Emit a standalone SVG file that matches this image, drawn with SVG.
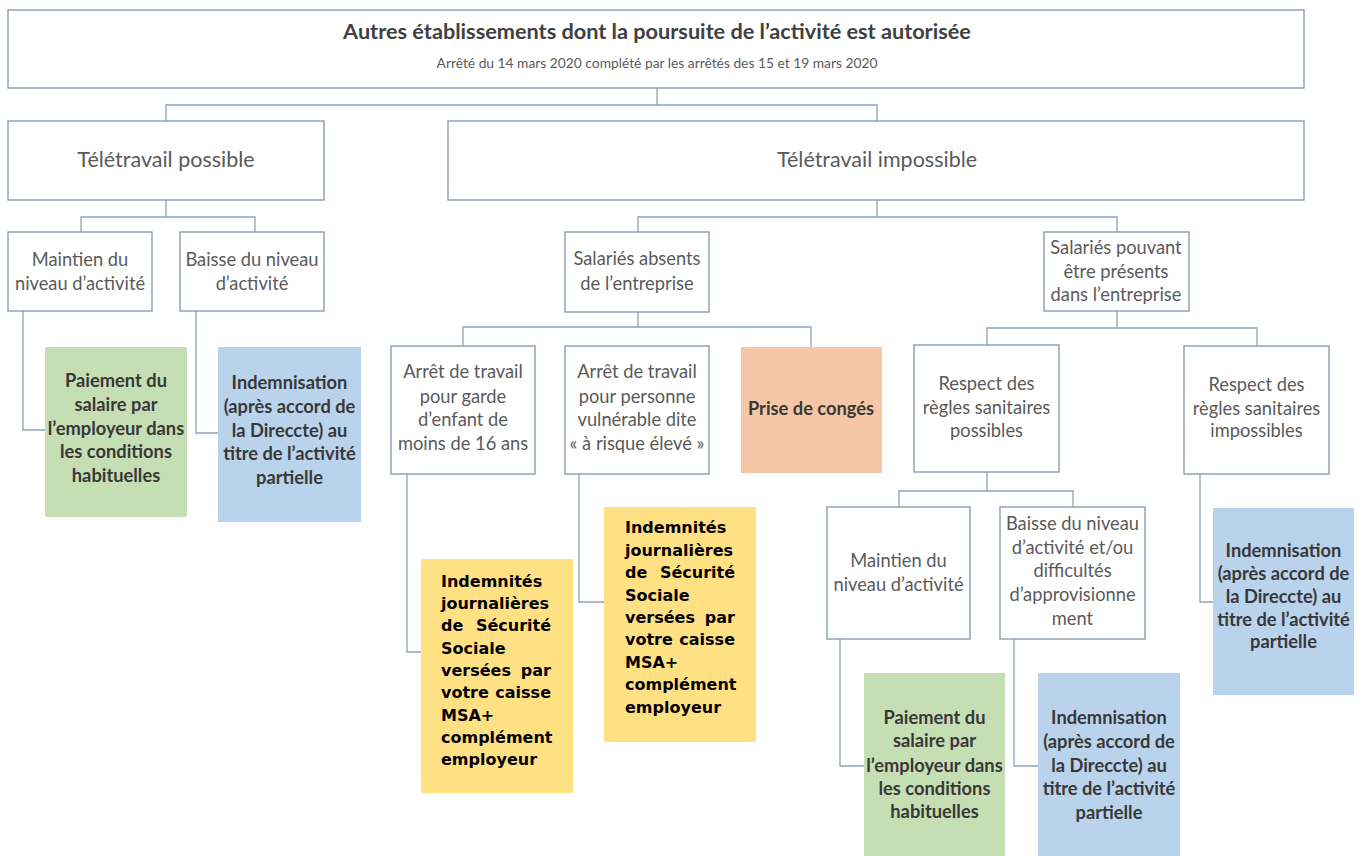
<svg xmlns="http://www.w3.org/2000/svg" width="1365" height="856" viewBox="0 0 1365 856">
<style>
.box{fill:#fff;stroke:#8194a8;stroke-width:1.3}
.green{fill:#c5deb4}
.blue{fill:#bad3ec}
.peach{fill:#f6c7a7}
.yellow{fill:#ffe083}
.c{fill:none;stroke:#8ea2b6;stroke-width:1.3}
.t{font-family:Lato,"Liberation Sans",sans-serif;font-size:18.3px;fill:#5a5a5a;text-anchor:middle}
.big{font-size:21.5px}
.b{font-weight:bold;fill:#383838}
.title{font-size:21.7px;fill:#404040;font-weight:bold}
.sub{font-size:13.8px}
.y{font-family:"DejaVu Sans",Verdana,sans-serif;font-weight:bold;font-size:16px;fill:#000}
.e{text-anchor:end}
</style>
<rect width="1365" height="856" fill="#fff"/>
<g id="connectors">
<path class="c" d="M657,88V105M166,121V105H877V121"/>
<path class="c" d="M166,200V217M81,232V217H255V232"/>
<path class="c" d="M877,200V217M638,232V217H1117V232"/>
<path class="c" d="M23,311V430H45M196,311V433H218"/>
<path class="c" d="M638,312V327M463,346V327H811V347"/>
<path class="c" d="M407,474V652H421M579,474V602H604"/>
<path class="c" d="M1117,311V328M987,345V328H1257V346"/>
<path class="c" d="M987,472V491M899,507V491H1073V507"/>
<path class="c" d="M1200,474V602H1213"/>
<path class="c" d="M840,639V766H864M1014,639V766H1038"/>
</g>
<g id="root">
<rect class="box" x="8" y="10" width="1296" height="78"/>
<text class="t title" x="657" y="39">Autres établissements dont la poursuite de l’activité est autorisée</text>
<text class="t sub" x="657" y="68">Arrêté du 14 mars 2020 complété par les arrêtés des 15 et 19 mars 2020</text>
</g>
<g id="teletravail-possible">
<rect class="box" x="8" y="121" width="316" height="79"/>
<text class="t big" x="166" y="167">Télétravail possible</text>
</g>
<g id="teletravail-impossible">
<rect class="box" x="448" y="121" width="856" height="79"/>
<text class="t big" x="877" y="167">Télétravail impossible</text>
</g>
<g id="maintien-1">
<rect class="box" x="8" y="232" width="144" height="79"/>
<text class="t" x="80" y="266">Maintien du</text>
<text class="t" x="80" y="290">niveau d’activité</text>
</g>
<g id="baisse-1">
<rect class="box" x="180" y="232" width="144" height="79"/>
<text class="t" x="252" y="266">Baisse du niveau</text>
<text class="t" x="252" y="290">d’activité</text>
</g>
<g id="salaries-absents">
<rect class="box" x="565" y="232" width="144" height="80"/>
<text class="t" x="637" y="265">Salariés absents</text>
<text class="t" x="637" y="290">de l’entreprise</text>
</g>
<g id="salaries-presents">
<rect class="box" x="1044" y="232" width="145" height="79"/>
<text class="t" x="1116" y="254">Salariés pouvant</text>
<text class="t" x="1116" y="278">être présents</text>
<text class="t" x="1116" y="301">dans l’entreprise</text>
</g>
<g id="paiement-1">
<rect class="green" x="45" y="347" width="142" height="170"/>
<text class="t b" x="116" y="387">Paiement du</text>
<text class="t b" x="116" y="411">salaire par</text>
<text class="t b" x="116" y="435">l’employeur dans</text>
<text class="t b" x="116" y="458">les conditions</text>
<text class="t b" x="116" y="482">habituelles</text>
</g>
<g id="indemnisation-1">
<rect class="blue" x="218" y="347" width="143" height="175"/>
<text class="t b" x="289.5" y="389">Indemnisation</text>
<text class="t b" x="289.5" y="413">(après accord de</text>
<text class="t b" x="289.5" y="437">la Direccte) au</text>
<text class="t b" x="289.5" y="460">titre de l’activité</text>
<text class="t b" x="289.5" y="484">partielle</text>
</g>
<g id="arret-garde">
<rect class="box" x="391" y="346" width="144" height="128"/>
<text class="t" x="463" y="378">Arrêt de travail</text>
<text class="t" x="463" y="403">pour garde</text>
<text class="t" x="463" y="426">d’enfant de</text>
<text class="t" x="463" y="450">moins de 16 ans</text>
</g>
<g id="arret-vulnerable">
<rect class="box" x="565" y="346" width="144" height="128"/>
<text class="t" x="637" y="378">Arrêt de travail</text>
<text class="t" x="637" y="403">pour personne</text>
<text class="t" x="637" y="426">vulnérable dite</text>
<text class="t" x="637" y="450">« à risque élevé »</text>
</g>
<g id="conges">
<rect class="peach" x="741" y="347" width="141" height="126"/>
<text class="t b" x="811" y="415">Prise de congés</text>
</g>
<g id="respect-possibles">
<rect class="box" x="914" y="345" width="145" height="127"/>
<text class="t" x="986.5" y="390">Respect des</text>
<text class="t" x="986.5" y="414">règles sanitaires</text>
<text class="t" x="986.5" y="437">possibles</text>
</g>
<g id="respect-impossibles">
<rect class="box" x="1184" y="346" width="145" height="128"/>
<text class="t" x="1256.5" y="391">Respect des</text>
<text class="t" x="1256.5" y="415">règles sanitaires</text>
<text class="t" x="1256.5" y="437">impossibles</text>
</g>
<g id="ij-1">
<rect class="yellow" x="421" y="559" width="152" height="234"/>
<text class="y" x="441" y="587">Indemnités</text>
<text class="y" x="441" y="609">journalières</text>
<text class="y" x="441" y="631">de</text><text class="y e" x="551" y="631">Sécurité</text>
<text class="y" x="441" y="654">Sociale</text>
<text class="y" x="441" y="676">versées</text><text class="y e" x="551" y="676">par</text>
<text class="y" x="441" y="698">votre</text><text class="y e" x="551" y="698">caisse</text>
<text class="y" x="441" y="721">MSA+</text>
<text class="y" x="441" y="743">complément</text>
<text class="y" x="441" y="765">employeur</text>
</g>
<g id="ij-2">
<rect class="yellow" x="604" y="507" width="152" height="235"/>
<text class="y" x="625" y="533">Indemnités</text>
<text class="y" x="625" y="556">journalières</text>
<text class="y" x="625" y="578">de</text><text class="y e" x="735" y="578">Sécurité</text>
<text class="y" x="625" y="601">Sociale</text>
<text class="y" x="625" y="623">versées</text><text class="y e" x="735" y="623">par</text>
<text class="y" x="625" y="645">votre</text><text class="y e" x="735" y="645">caisse</text>
<text class="y" x="625" y="668">MSA+</text>
<text class="y" x="625" y="690">complément</text>
<text class="y" x="625" y="713">employeur</text>
</g>
<g id="maintien-2">
<rect class="box" x="827" y="507" width="143" height="132"/>
<text class="t" x="898.5" y="567">Maintien du</text>
<text class="t" x="898.5" y="591">niveau d’activité</text>
</g>
<g id="baisse-2">
<rect class="box" x="1000" y="507" width="145" height="132"/>
<text class="t" x="1072.5" y="530">Baisse du niveau</text>
<text class="t" x="1072.5" y="554">d’activité et/ou</text>
<text class="t" x="1072.5" y="577">difficultés</text>
<text class="t" x="1072.5" y="601">d’approvisionne</text>
<text class="t" x="1072.5" y="625">ment</text>
</g>
<g id="indemnisation-3">
<rect class="blue" x="1213" y="508" width="141" height="187"/>
<text class="t b" x="1283.5" y="557">Indemnisation</text>
<text class="t b" x="1283.5" y="580">(après accord de</text>
<text class="t b" x="1283.5" y="603">la Direccte) au</text>
<text class="t b" x="1283.5" y="626">titre de l’activité</text>
<text class="t b" x="1283.5" y="648">partielle</text>
</g>
<g id="paiement-2">
<rect class="green" x="864" y="673" width="141" height="190"/>
<text class="t b" x="934.5" y="724">Paiement du</text>
<text class="t b" x="934.5" y="747">salaire par</text>
<text class="t b" x="934.5" y="772">l’employeur dans</text>
<text class="t b" x="934.5" y="795">les conditions</text>
<text class="t b" x="934.5" y="818">habituelles</text>
</g>
<g id="indemnisation-2">
<rect class="blue" x="1038" y="673" width="142" height="190"/>
<text class="t b" x="1109" y="724">Indemnisation</text>
<text class="t b" x="1109" y="748">(après accord de</text>
<text class="t b" x="1109" y="772">la Direccte) au</text>
<text class="t b" x="1109" y="795">titre de l’activité</text>
<text class="t b" x="1109" y="819">partielle</text>
</g>
</svg>
